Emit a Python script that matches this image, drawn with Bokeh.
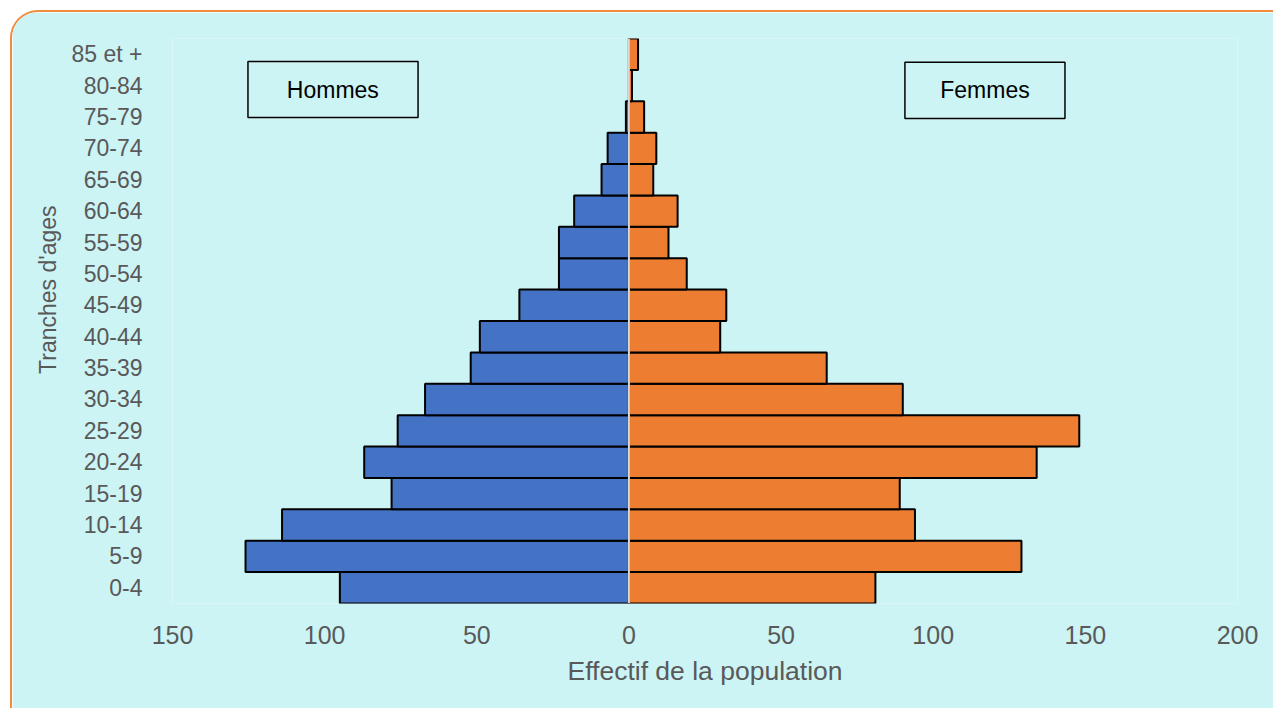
from bokeh.plotting import figure
from bokeh.models import (ColumnDataSource, FactorRange, Range1d, FixedTicker,
                          CustomJSTickFormatter, Span, BoxAnnotation, Label, Title)
from bokeh.embed import file_html
from bokeh.resources import INLINE

ages = ["0-4", "5-9", "10-14", "15-19", "20-24", "25-29", "30-34", "35-39",
        "40-44", "45-49", "50-54", "55-59", "60-64", "65-69", "70-74",
        "75-79", "80-84", "85 et +"]
hommes = [95, 126, 114, 78, 87, 76, 67, 52, 49, 36, 23, 23, 18, 9, 7, 1, 0, 0]
femmes = [81, 129, 94, 89, 134, 148, 90, 65, 30, 32, 19, 13, 16, 8, 9, 5, 1, 3]
x_ticks = [-150, -100, -50, 0, 50, 100, 150, 200]

BG = "#CCF4F5"
BLUE = "#4472C4"
ORANGE = "#ED7D31"
GRAY = "#595959"
FONT = "Liberation Sans"

src = ColumnDataSource(dict(
    age=ages,
    h_left=[-v for v in hommes],
    zero=[0] * len(ages),
    f_right=femmes,
))

p = figure(width=1263, height=698, output_backend="svg", toolbar_location=None,
           y_range=FactorRange(factors=ages, range_padding=0),
           x_range=Range1d(-150, 200),
           min_border_left=160, min_border_right=38,
           min_border_top=26, min_border_bottom=107)
p.background_fill_color = BG
p.border_fill_color = BG
p.outline_line_color = None
p.grid.visible = False
p.styles = {"margin-left": "10px", "margin-top": "10px",
            "border-left": "2px solid #F08C3E", "border-top": "2px solid #F08C3E",
            "border-top-left-radius": "28px", "overflow": "hidden"}

p.hbar(y="age", left="h_left", right="zero", height=1.0, source=src,
       fill_color=BLUE, line_color="black", line_width=2)
p.hbar(y="age", left="zero", right="f_right", height=1.0, source=src,
       fill_color=ORANGE, line_color="black", line_width=2)

p.add_layout(Span(location=0, dimension="height", line_color="#D9D9D9",
                  line_width=2))

# x axis
xa = p.xaxis[0]
xa.ticker = FixedTicker(ticks=x_ticks)
xa.formatter = CustomJSTickFormatter(code="return Math.abs(tick).toString();")
xa.axis_line_color = None
xa.major_tick_line_color = None
xa.minor_tick_line_color = None
xa.major_label_text_font = FONT
xa.major_label_text_font_size = "25px"
xa.major_label_text_color = GRAY
xa.major_label_standoff = 16
xa.axis_label = "Effectif de la population"
xa.axis_label_text_font = FONT
xa.axis_label_text_font_size = "26.5px"
xa.axis_label_text_font_style = "normal"
xa.axis_label_text_color = GRAY
xa.axis_label_standoff = 9

# y axis
ya = p.yaxis[0]
ya.axis_line_color = None
ya.major_tick_line_color = None
ya.minor_tick_line_color = None
ya.major_label_text_font = FONT
ya.major_label_text_font_size = "23px"
ya.major_label_text_color = GRAY
ya.major_label_standoff = 24

# y axis title as a side title, placed a little above the frame centre
ytitle = Title(text="Tranches d'ages", align="right", offset=167,
               text_font=FONT, text_font_size="23px", text_font_style="normal",
               text_color=GRAY, standoff=15)
p.add_layout(ytitle, "left")

# legend-like boxes
p.add_layout(BoxAnnotation(left=-125.2, right=-69.3, bottom=15.48, top=17.27,
                           fill_alpha=0, line_color="black", line_alpha=1,
                           line_width=1.5))
p.add_layout(Label(x=-97.3, y=16.375, text="Hommes", text_align="center",
                   text_baseline="middle", text_font=FONT,
                   text_font_size="23px", text_color="black"))
p.add_layout(BoxAnnotation(left=90.7, right=143.3, bottom=15.45, top=17.24,
                           fill_alpha=0, line_color="black", line_alpha=1,
                           line_width=1.5))
p.add_layout(Label(x=117.0, y=16.345, text="Femmes", text_align="center",
                   text_baseline="middle", text_font=FONT,
                   text_font_size="23px", text_color="black"))

open("out.html", "w").write(file_html(p, INLINE))
